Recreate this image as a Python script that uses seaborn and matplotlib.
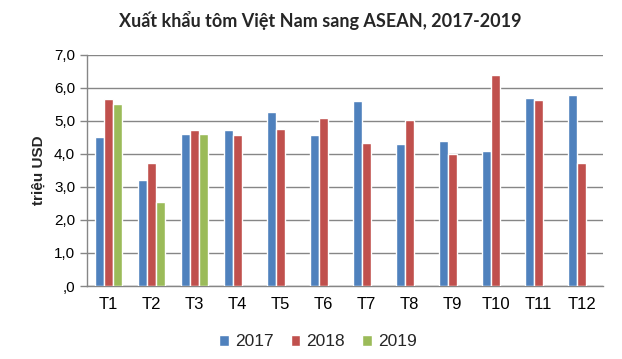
import matplotlib
matplotlib.use("Agg")
import matplotlib.pyplot as plt
import matplotlib.ticker as mticker
import numpy as np
import pandas as pd
import seaborn as sns

# ---------------------------------------------------------------------------
# Data (triệu USD)
# ---------------------------------------------------------------------------
months = ["T1", "T2", "T3", "T4", "T5", "T6", "T7", "T8", "T9", "T10", "T11", "T12"]
years = ["2017", "2018", "2019"]
v2017 = [4.50, 3.20, 4.62, 4.74, 5.28, 4.59, 5.61, 4.31, 4.38, 4.10, 5.71, 5.80]
v2018 = [5.68, 3.74, 4.74, 4.59, 4.77, 5.10, 4.34, 5.04, 4.00, 6.40, 5.65, 3.74]
v2019 = [5.50, 2.56, 4.62]

BLUE = "#4F81BD"
RED = "#C0504D"
GREEN = "#9BBB59"
GRID = "#868686"

rows = []
for year, vals in zip(years, [v2017, v2018, v2019]):
    for m, v in zip(months, vals):
        rows.append({"month": m, "year": year, "value": v})
df = pd.DataFrame(rows)

sns.set_theme(style="white")
plt.rcParams["font.family"] = ["Liberation Sans", "DejaVu Sans"]

fig = plt.figure(figsize=(6.22, 3.59), dpi=100)
ax = fig.add_axes([87 / 622, 1 - 286 / 359, 516 / 622, 231 / 359])

sns.barplot(
    data=df, x="month", y="value", hue="year",
    order=months, hue_order=years,
    palette=[BLUE, RED, GREEN], width=0.64, saturation=1,
    ax=ax, legend=True, zorder=3,
)

ax.set_ylim(0, 7)
ax.set_xlim(-0.5, len(months) - 0.5)
ax.yaxis.set_major_locator(mticker.MultipleLocator(1))
ax.yaxis.set_major_formatter(
    mticker.FuncFormatter(lambda y, _: ",0" if y == 0 else f"{y:.1f}".replace(".", ","))
)
ax.grid(axis="y", color=GRID, linewidth=1, zorder=0)

# category boundary tick marks like Excel
ax.set_xticks(np.arange(-0.5, len(months)), minor=True)
ax.tick_params(axis="x", which="major", length=0, labelsize=12, pad=8, colors="black")
ax.tick_params(axis="x", which="minor", length=5, color=GRID, width=1)
ax.tick_params(axis="y", which="major", length=5, color=GRID, width=1,
               labelsize=11, left=True, colors="black")

for side in ["top", "right"]:
    ax.spines[side].set_visible(False)
for side in ["left", "bottom"]:
    ax.spines[side].set_color(GRID)
    ax.spines[side].set_linewidth(1)

ax.set_xlabel("")
ax.set_ylabel("triệu USD", fontsize=11, fontweight="bold", labelpad=6)

handles, labels = ax.get_legend_handles_labels()
ax.legend_.remove()
fig.legend(handles, labels, loc="center", bbox_to_anchor=(318 / 622, 1 - 342 / 359),
           ncol=3, frameon=False, fontsize=12.5, handlelength=0.55, handleheight=0.55,
           handletextpad=0.35, columnspacing=1.0)

fig.text(320 / 622, 1 - 20 / 359, "Xuất khẩu tôm Việt Nam sang ASEAN, 2017-2019",
         ha="center", va="center", fontsize=13, fontweight="bold",
         family=["Lato", "DejaVu Sans"])

fig.savefig("out.png", dpi=100)
